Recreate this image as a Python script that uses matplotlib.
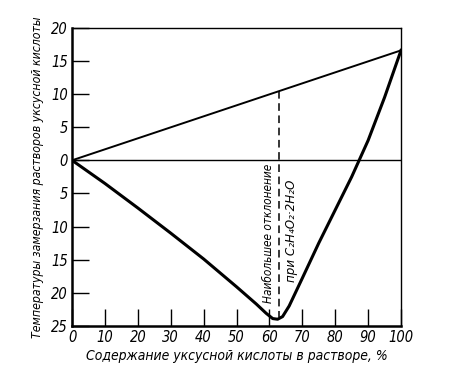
import matplotlib.pyplot as plt
import numpy as np

# Data
upper_x = [0, 100]
upper_y = [0, 16.6]

lower_x = [0, 10, 20, 30, 40, 50, 56, 59, 61, 62.5, 64, 66, 70, 75, 80, 85, 90, 95, 100]
lower_y = [0, -3.5, -7.2, -11.0, -14.9, -19.1, -21.7, -23.1, -23.9, -24.0, -23.6, -22.0,
           -17.8, -12.5, -7.5, -2.5, 3.0, 9.5, 16.6]

max_dev_x = 63
y_ticks = [-25, -20, -15, -10, -5, 0, 5, 10, 15, 20]
x_ticks = [0, 10, 20, 30, 40, 50, 60, 70, 80, 90, 100]

plt.rcParams['font.family'] = ['DejaVu Sans']
plt.rcParams['font.style'] = 'italic'
plt.rcParams['font.stretch'] = 'condensed'

fig = plt.figure(figsize=(4.74, 3.87), dpi=100)
ax = fig.add_axes([0.152, 0.158, 0.694, 0.770])

ax.plot(upper_x, upper_y, color='black', lw=1.4)
ax.plot(lower_x, lower_y, color='black', lw=2.2, solid_joinstyle='round')
ax.axhline(0, color='black', lw=1.0)
ax.plot([max_dev_x, max_dev_x], [max_dev_x * 0.166, -23.6], color='black', lw=1.1,
        dashes=(5, 3))

ax.text(59.8, -11, 'Наибольшее отклонение', rotation=90, ha='center', va='center',
        fontsize=8.5)
ax.text(66.6, -10.6, 'при C₂H₄O₂·2H₂O', rotation=90, ha='center', va='center',
        fontsize=9.5)

ax.set_xlim(0, 100)
ax.set_ylim(-25, 20)
ax.set_xticks(x_ticks)
ax.set_yticks(y_ticks)
ax.set_yticklabels([str(abs(v)) for v in y_ticks])
ax.tick_params(direction='in', length=12, width=1.0, labelsize=10.5, pad=3)

for side in ['left', 'bottom']:
    ax.spines[side].set_linewidth(1.8)
for side in ['top', 'right']:
    ax.spines[side].set_linewidth(1.0)

ax.set_xlabel('Содержание уксусной кислоты в растворе, %', fontsize=10, labelpad=3)
ax.set_ylabel('Температуры замерзания растворов уксусной кислоты', fontsize=8.8, labelpad=5)

plt.savefig('out.png', dpi=100)
